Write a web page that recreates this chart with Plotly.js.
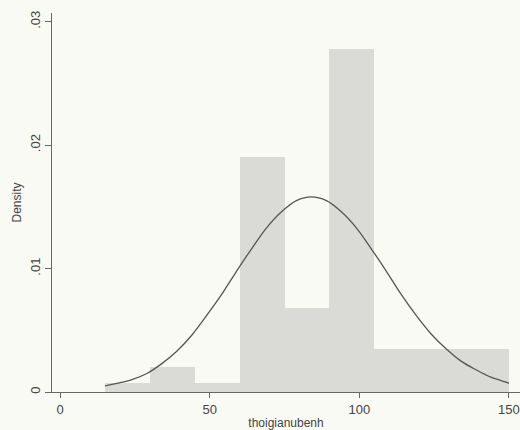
<!DOCTYPE html>
<html>
<head>
<meta charset="utf-8">
<script src="https://cdn.plot.ly/plotly-3.0.1.min.js"></script>
<style>html,body{margin:0;padding:0;background:#fafaf4;}#chart{width:520px;height:430px;}</style>
</head>
<body>
<div id="chart"></div>
<script>
// Histogram bins (left edges) and densities
const binStart = [15, 30, 45, 60, 75, 90, 105, 120, 135];
const binWidth = 15;
const density = [0.0007, 0.0020, 0.0007, 0.0190, 0.0068, 0.0278, 0.0035, 0.0035, 0.0035];

// Normal density curve points
const curveX = [15, 19, 24, 29, 34, 39, 44, 49, 54, 59, 64, 69, 74, 79, 84, 89, 94, 99, 104, 109, 114, 119, 124, 129, 134, 139, 144, 149, 150];
const curveY = [0.0005, 0.0007, 0.0010, 0.0015, 0.0023, 0.0033, 0.0046, 0.0062, 0.0079, 0.0098, 0.0116, 0.0133, 0.0146, 0.0155, 0.0158, 0.0155, 0.0146, 0.0133, 0.0116, 0.0098, 0.0079, 0.0062, 0.0047, 0.0035, 0.0025, 0.0018, 0.0012, 0.0008, 0.0007];

const xTicks = [0, 50, 100, 150];
const yTicks = [0, 0.01, 0.02, 0.03];
const yTickText = ['0', '.01', '.02', '.03'];

const bars = {
  type: 'bar',
  x: binStart.map(v => v + binWidth / 2),
  y: density,
  width: binStart.map(() => binWidth),
  marker: {color: '#dadad6', line: {width: 0}},
  hoverinfo: 'x+y'
};
const curve = {
  type: 'scatter',
  mode: 'lines',
  x: curveX,
  y: curveY,
  line: {color: '#555555', width: 1.3, shape: 'spline', smoothing: 1},
  hoverinfo: 'x+y'
};

const layout = {
  width: 520, height: 430,
  margin: {l: 52, r: 0, t: 13, b: 38},
  paper_bgcolor: '#fafaf4',
  plot_bgcolor: '#fafaf4',
  showlegend: false,
  bargap: 0,
  font: {family: 'Liberation Sans, Arial, sans-serif', color: '#444444', size: 13},
  xaxis: {
    range: [-2.7, 153.7],
    tickvals: xTicks,
    ticks: 'outside', ticklen: 5, tickcolor: '#666666', tickwidth: 1,
    showline: true, linecolor: '#666666', linewidth: 1,
    showgrid: false, zeroline: false,
    tickfont: {size: 13, color: '#444444'},
    title: {text: 'thoigianubenh', font: {size: 12, color: '#444444'}, standoff: 5}
  },
  yaxis: {
    range: [0, 0.0307],
    tickvals: yTicks, ticktext: yTickText,
    tickangle: -90,
    ticks: 'outside', ticklen: 6, tickcolor: '#666666', tickwidth: 1,
    showline: true, linecolor: '#666666', linewidth: 1,
    showgrid: false, zeroline: false,
    tickfont: {size: 13, color: '#444444'},
    title: {text: 'Density', font: {size: 12, color: '#444444'}, standoff: 3}
  }
};

Plotly.newPlot('chart', [bars, curve], layout, {displayModeBar: false, staticPlot: true});
</script>
</body>
</html>
